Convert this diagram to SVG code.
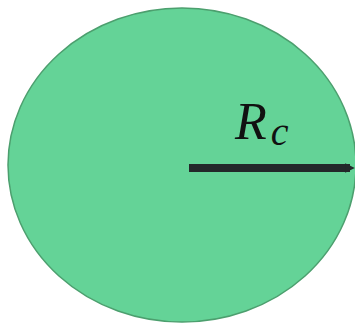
<svg xmlns="http://www.w3.org/2000/svg" width="355" height="323" viewBox="0 0 355 323">
<style>
.lbl{font-family:"Liberation Serif","DejaVu Serif",serif;font-style:italic;fill:#111}
</style>
<defs>
<marker id="ah" viewBox="0 0 4 4" refX="2" refY="2" markerWidth="1.2" markerHeight="1.5" orient="auto" markerUnits="strokeWidth">
<path d="M0,0 L4,2 L0,4 Z" fill="#23282a"/>
</marker>
</defs>
<g id="circle">
<ellipse cx="182" cy="165" rx="174" ry="157" fill="#64d397" stroke="#4c9f6e" stroke-width="1.5"/>
</g>
<g id="connectors">
<line x1="189" y1="168" x2="350" y2="168" stroke="#23282a" stroke-width="8" marker-end="url(#ah)"/>
</g>
<g id="label">
<text class="lbl" x="235" y="139" font-size="52">R<tspan font-size="40" dx="4" dy="6">c</tspan></text>
</g>
</svg>
